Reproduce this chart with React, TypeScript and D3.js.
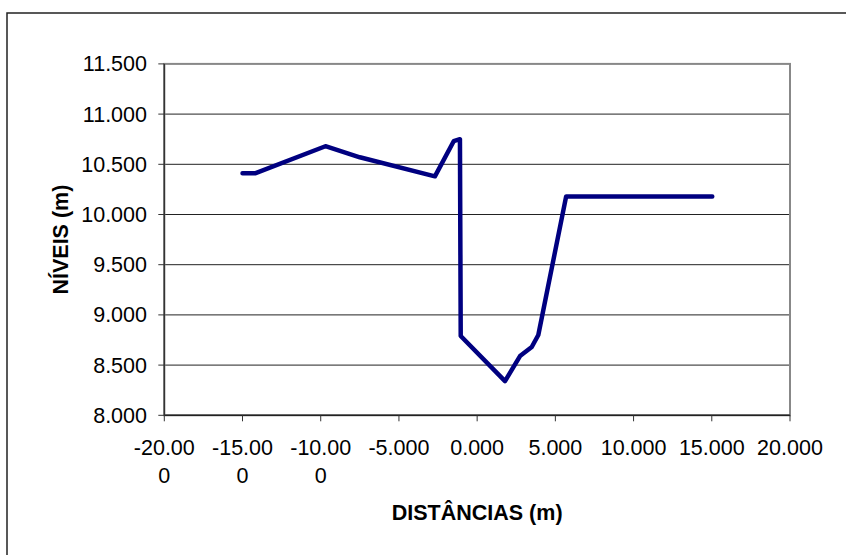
import * as d3 from 'd3'

const distances = [-15.0, -14.2, -9.7, -7.5, -2.7, -1.5, -1.1, -1.05, 1.78, 2.74, 3.49, 3.91, 5.69, 10.54, 15.03]
const levels = [10.41, 10.41, 10.68, 10.57, 10.38, 10.73, 10.75, 8.79, 8.34, 8.59, 8.68, 8.8, 10.18, 10.18, 10.18]
const xTicks = [-20, -15, -10, -5, 0, 5, 10, 15, 20]
const yTicks = [8, 8.5, 9, 9.5, 10, 10.5, 11, 11.5]

const W = 846
const H = 555
const plot = { left: 164.3, right: 790, top: 63.9, bottom: 415.3 }
const font = '"Liberation Sans", Arial, sans-serif'
const fontSize = 21.5

const locale = d3.formatLocale({ decimal: '.', thousands: ',', grouping: [3], currency: ['', ''], minus: '-' })

export default function App() {
  const x = d3.scaleLinear().domain([-20, 20]).range([plot.left, plot.right])
  const y = d3.scaleLinear().domain([8, 11.5]).range([plot.bottom, plot.top])
  const fmt = locale.format('.3f')

  const points = distances.map((d, i) => [d, levels[i]] as [number, number])
  const line = d3
    .line<[number, number]>()
    .x((d) => x(d[0]))
    .y((d) => y(d[1]))

  return (
    <div style={{ position: 'absolute', left: 0, top: 0 }}>
      <svg width={W} height={H} style={{ display: 'block', background: '#fff' }}>
        {/* chart frame */}
        <rect x={7} y={13} width={W} height={H} fill="none" stroke="#222" strokeWidth={1.5} />

        {/* gridlines */}
        {yTicks.slice(1, -1).map((t) => (
          <line key={t} x1={plot.left} x2={plot.right} y1={y(t)} y2={y(t)} stroke="#222" strokeWidth={1} />
        ))}

        {/* plot border */}
        <rect
          x={plot.left}
          y={plot.top}
          width={plot.right - plot.left}
          height={plot.bottom - plot.top}
          fill="none"
          stroke="#888"
          strokeWidth={2}
        />

        {/* y axis */}
        <line x1={plot.left} x2={plot.left} y1={plot.top} y2={plot.bottom} stroke="#333" strokeWidth={1.5} />
        {yTicks.map((t) => (
          <g key={t}>
            <line x1={plot.left - 6} x2={plot.left} y1={y(t)} y2={y(t)} stroke="#333" strokeWidth={1} />
            <text x={147} y={y(t) + 7.5} textAnchor="end" fontFamily={font} fontSize={fontSize} fill="#000">
              {fmt(t)}
            </text>
          </g>
        ))}

        {/* x axis */}
        <line x1={plot.left} x2={plot.right} y1={plot.bottom} y2={plot.bottom} stroke="#222" strokeWidth={1.5} />
        {xTicks.map((t) => {
          const label = fmt(t)
          const first = label.length > 6 ? label.slice(0, 6) : label
          const rest = label.length > 6 ? label.slice(6) : ''
          return (
            <g key={t}>
              <line x1={x(t)} x2={x(t)} y1={plot.bottom} y2={plot.bottom + 6} stroke="#333" strokeWidth={1} />
              <text x={x(t)} y={455} textAnchor="middle" fontFamily={font} fontSize={fontSize} fill="#000">
                {first}
              </text>
              {rest && (
                <text x={x(t)} y={483.3} textAnchor="middle" fontFamily={font} fontSize={fontSize} fill="#000">
                  {rest}
                </text>
              )}
            </g>
          )
        })}

        {/* series */}
        <path d={line(points) || ''} fill="none" stroke="#000080" strokeWidth={4.5} strokeLinejoin="round" strokeLinecap="round" />

        {/* axis titles */}
        <text
          x={(plot.left + plot.right) / 2}
          y={520}
          textAnchor="middle"
          fontFamily={font}
          fontSize={fontSize}
          fontWeight="bold"
          fill="#000"
        >
          DISTÂNCIAS (m)
        </text>
        <text
          transform={`translate(68,${(plot.top + plot.bottom) / 2}) rotate(-90)`}
          textAnchor="middle"
          fontFamily={font}
          fontSize={fontSize}
          fontWeight="bold"
          fill="#000"
        >
          NÍVEIS (m)
        </text>
      </svg>
    </div>
  )
}
